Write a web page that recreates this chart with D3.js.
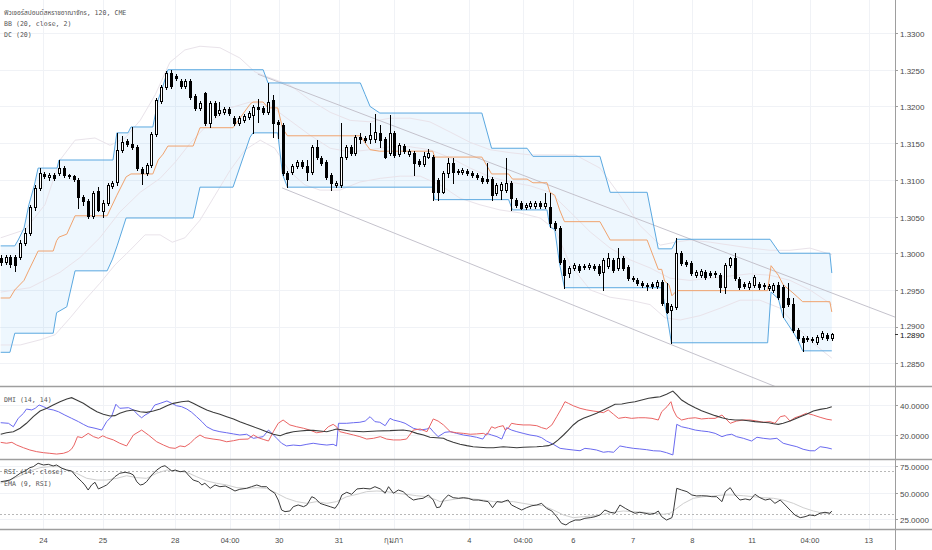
<!DOCTYPE html>
<html>
<head>
<meta charset="utf-8">
<script src="https://cdn.jsdelivr.net/npm/d3@7"></script>
<style>
  body { margin: 0; background: #fff; }
  svg { display: block; }
  .ax { font-family: "Liberation Sans", Arial, sans-serif; font-size: 8px; fill: #4a4a4a; }
  .lg { font-family: "DejaVu Sans Mono", "Noto Sans Thai", monospace; font-size: 6.6px; fill: #555; }
</style>
</head>
<body>
<svg id="chart"></svg>
<script>
// ---- dati (indice barra, prezzo/valore) ----
// candele 120 minuti: [open, high, low, close]
const ohlc = [
  [1.2994,1.2998,1.2984,1.2988],[1.2988,1.2998,1.2985,1.2995],[1.2995,1.2998,1.2981,1.2985],[1.2995,1.2998,1.2976,1.2984],
  [1.2995,1.3018,1.2992,1.3014],[1.3014,1.3034,1.3011,1.3028],[1.3028,1.3066,1.3025,1.3063],[1.3063,1.3093,1.3059,1.3089],
  [1.3089,1.3116,1.3086,1.3109],[1.3108,1.3111,1.3102,1.3105],[1.3104,1.3109,1.3100,1.3107],[1.3107,1.3109,1.3100,1.3102],
  [1.3109,1.3127,1.3107,1.3116],[1.3116,1.3119,1.3104,1.3107],[1.3107,1.3108,1.3102,1.3105],[1.3105,1.3107,1.3098,1.3101],
  [1.3100,1.3102,1.3062,1.3076],[1.3076,1.3079,1.3066,1.3071],[1.3071,1.3074,1.3048,1.3051],[1.3051,1.3085,1.3048,1.3082],
  [1.3085,1.3090,1.3057,1.3059],[1.3057,1.3072,1.3050,1.3068],[1.3068,1.3096,1.3066,1.3093],[1.3092,1.3098,1.3089,1.3096],
  [1.3097,1.3164,1.3093,1.3141],[1.3141,1.3160,1.3138,1.3151],[1.3153,1.3156,1.3146,1.3149],[1.3149,1.3172,1.3142,1.3145],
  [1.3145,1.3147,1.3113,1.3116],[1.3115,1.3118,1.3094,1.3109],[1.3109,1.3123,1.3107,1.3120],[1.3120,1.3165,1.3118,1.3162],
  [1.3162,1.3211,1.3160,1.3209],[1.3207,1.3229,1.3205,1.3226],[1.3226,1.3248,1.3224,1.3245],[1.3245,1.3250,1.3225,1.3228],
  [1.3241,1.3244,1.3236,1.3239],[1.3235,1.3237,1.3225,1.3228],[1.3228,1.3237,1.3225,1.3235],[1.3235,1.3237,1.3210,1.3213],
  [1.3214,1.3217,1.3195,1.3198],[1.3198,1.3207,1.3195,1.3205],[1.3218,1.3220,1.3175,1.3177],[1.3177,1.3207,1.3172,1.3205],
  [1.3205,1.3207,1.3186,1.3188],[1.3191,1.3206,1.3188,1.3195],[1.3192,1.3199,1.3190,1.3196],[1.3196,1.3199,1.3188,1.3191],
  [1.3184,1.3187,1.3175,1.3177],[1.3177,1.3187,1.3175,1.3184],[1.3181,1.3190,1.3179,1.3187],[1.3186,1.3194,1.3183,1.3191],
  [1.3188,1.3202,1.3164,1.3199],[1.3199,1.3210,1.3179,1.3196],[1.3198,1.3201,1.3190,1.3192],[1.3192,1.3232,1.3190,1.3206],
  [1.3209,1.3216,1.3158,1.3177],[1.3179,1.3181,1.3157,1.3176],[1.3175,1.3177,1.3107,1.3109],[1.3109,1.3112,1.3090,1.3101],
  [1.3111,1.3122,1.3108,1.3119],[1.3119,1.3127,1.3116,1.3124],[1.3124,1.3127,1.3116,1.3119],[1.3119,1.3127,1.3100,1.3111],
  [1.3111,1.3147,1.3108,1.3145],[1.3145,1.3154,1.3128,1.3131],[1.3130,1.3132,1.3120,1.3123],[1.3124,1.3127,1.3101,1.3104],
  [1.3107,1.3109,1.3086,1.3096],[1.3093,1.3098,1.3090,1.3096],[1.3093,1.3177,1.3090,1.3131],[1.3131,1.3147,1.3128,1.3145],
  [1.3145,1.3147,1.3134,1.3137],[1.3137,1.3161,1.3134,1.3158],[1.3158,1.3164,1.3150,1.3156],[1.3157,1.3160,1.3151,1.3154],
  [1.3156,1.3177,1.3150,1.3161],[1.3156,1.3190,1.3151,1.3165],[1.3164,1.3175,1.3145,1.3154],[1.3156,1.3158,1.3130,1.3131],
  [1.3137,1.3188,1.3134,1.3164],[1.3164,1.3167,1.3131,1.3134],[1.3135,1.3150,1.3132,1.3147],[1.3146,1.3149,1.3137,1.3139],
  [1.3135,1.3142,1.3132,1.3139],[1.3137,1.3139,1.3107,1.3123],[1.3126,1.3128,1.3119,1.3122],[1.3122,1.3138,1.3119,1.3132],
  [1.3131,1.3142,1.3130,1.3137],[1.3131,1.3134,1.3073,1.3083],[1.3100,1.3102,1.3073,1.3083],[1.3083,1.3112,1.3082,1.3109],
  [1.3109,1.3130,1.3104,1.3123],[1.3123,1.3130,1.3096,1.3111],[1.3112,1.3115,1.3108,1.3111],[1.3111,1.3116,1.3108,1.3113],
  [1.3112,1.3115,1.3107,1.3109],[1.3109,1.3112,1.3104,1.3107],[1.3107,1.3109,1.3101,1.3104],[1.3102,1.3105,1.3096,1.3098],
  [1.3101,1.3123,1.3096,1.3098],[1.3101,1.3104,1.3073,1.3079],[1.3082,1.3096,1.3079,1.3093],[1.3086,1.3097,1.3074,1.3094],
  [1.3086,1.3130,1.3083,1.3096],[1.3096,1.3098,1.3059,1.3075],[1.3072,1.3075,1.3063,1.3066],[1.3068,1.3071,1.3060,1.3062],
  [1.3063,1.3068,1.3060,1.3066],[1.3064,1.3071,1.3062,1.3068],[1.3064,1.3071,1.3062,1.3068],[1.3068,1.3071,1.3062,1.3064],
  [1.3064,1.3082,1.3062,1.3068],[1.3063,1.3082,1.3036,1.3041],[1.3041,1.3044,1.3032,1.3034],[1.3034,1.3037,1.2985,1.2988],
  [1.2991,1.2994,1.2953,1.2970],[1.2973,1.2983,1.2968,1.2980],[1.2980,1.2987,1.2977,1.2984],[1.2983,1.2985,1.2974,1.2977],
  [1.2983,1.2985,1.2978,1.2981],[1.2981,1.2987,1.2978,1.2984],[1.2983,1.2985,1.2977,1.2980],[1.2983,1.2985,1.2970,1.2973],
  [1.2974,1.2994,1.2950,1.2991],[1.2983,1.3000,1.2980,1.2994],[1.2991,1.2994,1.2974,1.2977],[1.2980,1.3007,1.2977,1.2994],
  [1.2994,1.2996,1.2977,1.2980],[1.2981,1.2984,1.2963,1.2966],[1.2966,1.2969,1.2962,1.2965],[1.2963,1.2966,1.2957,1.2959],
  [1.2959,1.2962,1.2954,1.2957],[1.2957,1.2959,1.2950,1.2955],[1.2958,1.2961,1.2953,1.2955],[1.2955,1.2963,1.2953,1.2961],
  [1.2961,1.2963,1.2930,1.2932],[1.2932,1.2959,1.2919,1.2920],[1.2923,1.2931,1.2878,1.2928],[1.2927,1.3021,1.2924,1.3000],
  [1.3000,1.3003,1.2984,1.2987],[1.2988,1.2991,1.2983,1.2985],[1.2987,1.2990,1.2970,1.2973],[1.2970,1.2977,1.2968,1.2974],
  [1.2970,1.2978,1.2968,1.2976],[1.2974,1.2977,1.2965,1.2968],[1.2973,1.2976,1.2968,1.2970],[1.2972,1.2976,1.2968,1.2973],
  [1.2970,1.2973,1.2947,1.2954],[1.2954,1.2987,1.2946,1.2984],[1.2984,1.2995,1.2981,1.2994],[1.2994,1.3000,1.2963,1.2966],
  [1.2965,1.2968,1.2951,1.2954],[1.2958,1.2961,1.2953,1.2955],[1.2954,1.2962,1.2951,1.2959],[1.2957,1.2970,1.2954,1.2968],
  [1.2958,1.2961,1.2951,1.2954],[1.2957,1.2959,1.2951,1.2955],[1.2953,1.2958,1.2950,1.2955],[1.2950,1.2959,1.2947,1.2957],
  [1.2957,1.2961,1.2938,1.2940],[1.2954,1.2957,1.2913,1.2927],[1.2939,1.2959,1.2928,1.2931],[1.2931,1.2939,1.2893,1.2895],
  [1.2895,1.2898,1.2882,1.2885],[1.2885,1.2887,1.2867,1.2879],[1.2883,1.2887,1.2880,1.2885],[1.2883,1.2886,1.2879,1.2882],
  [1.2879,1.2889,1.2876,1.2886],[1.2886,1.2894,1.2883,1.2891],[1.2889,1.2891,1.2882,1.2885],[1.2885,1.2891,1.2882,1.2890]
];

// Donchian (20): [indice barra, prezzo]
const dcUpper = [[0,1.3010],[2.9,1.3010],[3.6,1.3018],[4.8,1.3034],[5.8,1.3066],[6.9,1.3092],[7.7,1.3116],[11.6,1.3116],
  [12,1.3127],[23.1,1.3127],[23.9,1.3164],[26.2,1.3164],[26.8,1.3172],[31.3,1.3172],[32.4,1.3209],[33.4,1.3228],[34.4,1.3250],
  [54,1.3250],[55,1.3232],[74,1.3232],[75,1.3216],[76,1.3200],[78,1.3191],[99,1.3191],[101,1.3143],[108.3,1.3143],
  [109.5,1.3132],[123.3,1.3132],[125.4,1.3083],[133,1.3083],[135.3,1.3006],[138.1,1.3006],[139.1,1.3019],[158.3,1.3019],
  [160.3,1.3000],[170.6,1.3000],[171,1.2973]];
const dcLower = [[0,1.2865],[1.9,1.2865],[2.9,1.2891],[10.8,1.2891],[11.5,1.2919],[13.6,1.2927],[15.3,1.2976],[21.9,1.2976],
  [23,1.2992],[24,1.3011],[25.8,1.3048],[39.6,1.3048],[41,1.3090],[47.8,1.3090],[51.3,1.3158],[51.9,1.3164],[57,1.3164],
  [58,1.3107],[59,1.3090],[88.9,1.3090],[89.3,1.3073],[104.5,1.3073],[105.3,1.3059],[112.4,1.3059],[113,1.3036],[114,1.3032],
  [115,1.2985],[116,1.2953],[136,1.2953],[136.6,1.2930],[137,1.2919],[138,1.2878],[157.8,1.2878],[158.5,1.2947],[160,1.2938],
  [161,1.2913],[163,1.2893],[164,1.2882],[165,1.2867],[171,1.2867]];
const dcBasis = [[0,1.2939],[1.9,1.2939],[2.9,1.2950],[4.8,1.2963],[5.8,1.2977],[6.9,1.2992],[7.7,1.3003],[10.8,1.3003],
  [11.5,1.3017],[12,1.3022],[13.6,1.3026],[15.3,1.3051],[21.9,1.3051],[23.9,1.3079],[25.8,1.3104],[26.8,1.3108],[31.3,1.3108],
  [32.4,1.3127],[33.4,1.3135],[34.4,1.3146],[39.6,1.3146],[41,1.3171],[47.8,1.3171],[51.3,1.3203],[51.9,1.3206],[54,1.3206],
  [55,1.3198],[57,1.3198],[58,1.3170],[59,1.3160],[74,1.3160],[75,1.3150],[76,1.3141],[78,1.3139],[88.9,1.3139],[89.3,1.3131],
  [99,1.3131],[101,1.3108],[104.5,1.3108],[105.3,1.3101],[108.3,1.3101],[109.5,1.3096],[112.4,1.3096],[113,1.3083],[114,1.3079],
  [115,1.3059],[116,1.3043],[123.3,1.3043],[125.4,1.3018],[133,1.3018],[135.3,1.2978],[136,1.2978],[136.6,1.2962],[137.5,1.2957],
  [138.1,1.2942],[139.1,1.2949],[157.8,1.2949],[158.5,1.2983],[160,1.2970],[161,1.2957],[163,1.2946],[164,1.2940],[165,1.2934],
  [170.6,1.2934],[171,1.2920]];

// Bollinger (20, close, 2)
const bbUpper = [[0,1.3021],[5,1.3032],[9.1,1.3066],[12.2,1.3127],[15.3,1.3154],[19.4,1.3157],[22.5,1.3147],[25.6,1.3157],
  [28.7,1.3181],[31.8,1.3216],[34.8,1.3260],[37.9,1.3277],[41,1.3282],[45.1,1.3280],[49.2,1.3266],[52.3,1.3247],[55.4,1.3239],
  [59.5,1.3229],[63.6,1.3209],[67.8,1.3192],[71.9,1.3181],[76,1.3179],[80.1,1.3184],[84.2,1.3184],[88.3,1.3179],[92.5,1.3165],
  [96.6,1.3151],[100.7,1.3141],[104.8,1.3137],[108.9,1.3134],[113,1.3134],[118.2,1.3134],[123.3,1.3116],[127.4,1.3079],
  [131.5,1.3038],[135.7,1.3011],[138.8,1.3015],[141.8,1.3018],[146,1.3015],[150.1,1.3011],[154.2,1.3007],[158.3,1.3004],
  [162.4,1.3004],[166.5,1.3007],[171,1.2998]];
const bbBasis = [[0,1.2947],[6,1.2953],[12.2,1.2974],[16.3,1.2994],[20.4,1.3021],[24.5,1.3056],[28.7,1.3083],[32.8,1.3102],
  [35.9,1.3124],[39,1.3150],[43.1,1.3179],[47.2,1.3198],[51.3,1.3206],[55.4,1.3201],[59.5,1.3181],[63.6,1.3161],[67.8,1.3143],
  [71.9,1.3138],[76,1.3141],[80.1,1.3145],[84.2,1.3145],[88.3,1.3141],[92.5,1.3130],[96.6,1.3116],[100.7,1.3104],[104.8,1.3097],
  [108.9,1.3092],[113,1.3083],[117.2,1.3056],[121.3,1.3029],[125.4,1.3007],[129.5,1.2991],[133.6,1.2980],[137.7,1.2966],
  [141.8,1.2963],[146,1.2966],[150.1,1.2969],[154.2,1.2972],[158.3,1.2970],[162.4,1.2963],[166.5,1.2950],[171,1.2930]];
const bbLower = [[0,1.2875],[4,1.2875],[8.1,1.2882],[11.2,1.2889],[14.3,1.2912],[17.3,1.2936],[20.4,1.2959],[23.5,1.2984],
  [26.6,1.3004],[29.7,1.3025],[32.8,1.3025],[35.3,1.3015],[37.9,1.3021],[41,1.3045],[44.1,1.3079],[47.2,1.3113],[50.3,1.3141],
  [53.4,1.3154],[56.4,1.3143],[59.5,1.3111],[62.6,1.3093],[65.7,1.3086],[69.8,1.3086],[73.9,1.3097],[78.1,1.3102],[82.2,1.3105],
  [86.3,1.3105],[90.4,1.3093],[94.5,1.3075],[98.6,1.3066],[102.7,1.3059],[106.8,1.3055],[111,1.3048],[114.1,1.3032],
  [117.2,1.2984],[121.3,1.2950],[125.4,1.2940],[129.5,1.2936],[133.6,1.2930],[136.7,1.2912],[139.8,1.2909],[143.9,1.2915],
  [148,1.2925],[152.1,1.2936],[156.2,1.2936],[160.4,1.2925],[164.5,1.2895],[167.6,1.2875],[171,1.2857]];

// linee di tendenza disegnate
const trendUpper = [[52.9,1.3244],[184,1.2913]];
const trendLower = [[57.9,1.3089],[170,1.2790]];

// DMI (14, 14)
const diPlus = [[0,28.2],[1.6,27.8],[2.6,25.5],[3.6,31.1],[4.7,34.5],[5.3,37.3],[6.4,36.7],[7.1,37.8],[7.9,40],[8.8,38.9],
  [9.8,37.3],[10.8,36.7],[11.9,35.5],[13.2,33.3],[14.6,31.1],[16,28.9],[17,27.1],[18,25.5],[19.4,24.5],[20.8,23.3],[21.8,28.9],
  [22.8,32.2],[23.7,40.5],[24.5,37.8],[26.3,38.2],[27.3,36.7],[28.3,33.3],[29,31.5],[29.7,33.3],[30.7,35.1],[31.7,40],[32.8,41.1],
  [34.2,42.7],[35.2,41.1],[36.2,39.5],[37.2,38.9],[38.3,37.3],[39.3,35.1],[40.3,32.2],[41.4,28.9],[42.4,25.5],[43.7,23.3],
  [45.1,22.2],[46.5,21.5],[47.9,20.7],[49.2,20],[50.6,20.5],[52,17.8],[52.7,18.2],[54,18.9],[55.1,23.3],[55.8,21.1],[56.8,17.8],
  [57.8,14.5],[58.8,12.7],[60.2,13.3],[61.6,12.9],[63,13.8],[64.3,14.5],[65.7,13.8],[67.1,13.3],[68.4,13.8],[69.1,12.7],
  [69.5,27.8],[71.2,27.8],[72.6,28.2],[73.9,28.5],[75,29.3],[76,32.2],[77,28.9],[78,28.5],[79.1,26.2],[80.1,31.1],[80.8,30],
  [82.2,28.9],[83.2,27.8],[84.9,24.5],[86.3,23.3],[87.7,24],[88.3,24.9],[89,22.2],[90,18.9],[91.4,21.8],[92.5,22.2],[93.8,21.1],
  [95.2,20],[96.6,19.3],[97.9,18.5],[99.2,17.3],[100,21.1],[101,20],[102.1,18.9],[103.1,17.3],[104.1,24.9],[105.1,23.3],
  [106.2,22.2],[107.5,21.1],[108.9,20],[110.3,19.3],[111.3,18.2],[112.3,16],[113.7,13.8],[115.1,11.1],[116.5,10.5],[117.8,10],
  [119.2,9.5],[120.2,11.1],[121.3,10.7],[122.6,10],[124,8.5],[125,8.9],[126.1,8.5],[127.4,12.7],[128.8,11.8],[130.2,11.1],
  [131.5,10.7],[132.9,10.2],[134.3,9.5],[135.7,9.3],[137,8.2],[138.3,6.7],[139.1,27.1],[140.1,25.5],[141.5,24.5],[142.9,23.3],
  [144.2,22.7],[145.6,22.2],[147,21.1],[148.4,18.9],[149.4,20],[150.4,20.5],[151.4,18.9],[152.8,17.8],[154.5,16],[155.6,18.5],
  [156.9,17.8],[158.3,17.3],[159.7,17.8],[161,14.5],[162.4,13.3],[163.8,12.2],[165.1,10.5],[166.5,9.5],[167.5,9.5],[168.6,12.2],
  [170,11.5],[171,10.7]];
const diMinus = [[0,15.1],[1.2,14.5],[2.3,15.1],[3.3,13.3],[4.7,11.5],[6,10],[7.4,8.9],[8.8,8.2],[10.1,7.8],[11.5,7.3],
  [12.9,7.8],[13.9,8.9],[14.6,10.7],[15.1,13.3],[15.8,18.9],[16.7,18.2],[18,21.1],[19.1,18.9],[20.1,17.8],[21,19.5],[21.8,18.2],
  [23.2,16.7],[24.5,14.5],[25.9,12.7],[27.3,20],[29,23.3],[30.4,20],[32.1,15.5],[33.5,13.3],[34.8,11.5],[35.9,11.1],[36.9,12.7],
  [37.9,12.2],[39,14.5],[40,17.8],[41,20],[42,18.2],[43.7,17.3],[45.1,16.7],[46.5,15.5],[47.9,16.2],[49.2,17.1],[50.9,17.3],
  [52,20],[53,18.2],[54,17.1],[55.1,16],[56.1,22.2],[57.1,27.8],[58.1,30],[59.5,26.7],[60.9,25.5],[62.3,24.5],[63.6,23.3],
  [65,21.5],[66.4,22.2],[67.4,25.5],[68.4,27.1],[69.1,25.5],[69.8,22.2],[71.2,21.1],[72.6,20],[73.9,18.9],[75.3,17.3],
  [76.7,17.8],[78.1,18.9],[79.4,17.3],[80.8,16.7],[82.2,16.7],[83.5,17.3],[84.9,23.3],[86.3,24],[87.7,22.2],[89,30.7],[90,29.3],
  [91.1,26.7],[92.5,22.2],[93.8,21.5],[95.2,21.1],[96.6,20.5],[97.9,20.7],[99.3,21.1],[100,20],[101,25.5],[101.7,24.5],
  [102.4,25.5],[103.4,26.2],[103.8,23.3],[104.5,24.9],[105.1,27.8],[106.2,27.1],[107.5,26.7],[108.9,26.7],[110.3,26.2],
  [111.3,24.9],[112.3,24],[113.4,26.7],[114.4,32.2],[115.4,37.8],[116.1,42.2],[116.8,41.1],[117.8,39.5],[119.2,37.8],[120.6,36.7],
  [121.9,36],[123,35.5],[124,34.9],[125,36.7],[126.1,33.8],[127.1,31.1],[128.5,31.8],[129.8,31.1],[131.2,31.5],[132.6,31.5],
  [134,31.1],[135.3,30],[136,35.5],[137.1,38.9],[137.9,42.2],[138.4,36.7],[139.1,32.2],[140.1,30],[141.5,31.1],[142.9,31.5],
  [144.2,30.7],[145.6,31.1],[147,31.1],[148.4,33.3],[149.1,31.1],[150.1,27.8],[151.4,29.3],[152.8,30],[154.2,30],[155.6,29.3],
  [156.9,28.5],[158.3,28.9],[159.3,27.8],[160.4,32.2],[161.4,32.9],[162.4,29.3],[163.4,31.5],[164.5,32.7],[165.8,34.5],
  [167.2,33.3],[168.6,31.8],[170,30.5],[171,30]];
const adx = [[0,20.5],[1.2,21.5],[2.6,22.2],[4,24.5],[5.3,27.8],[6.7,32.2],[8.1,36],[9.5,37.8],[10.8,40],[12.2,42.2],[13.6,44],
  [14.6,44.9],[15.6,43.3],[17,41.1],[18.4,38.2],[19.8,35.5],[21.1,33.8],[22.5,32.7],[23.5,32.9],[24.5,34.5],[25.9,36],
  [27.3,36.7],[28.7,35.5],[30,35.1],[31.4,36],[32.8,37.3],[34.2,39.5],[35.5,41.1],[37.2,42.2],[38.6,42.7],[39.6,41.1],[41,38.9],
  [42.4,36.7],[43.7,35.1],[45.1,33.8],[46.5,32.2],[47.9,30.7],[49.2,28.9],[50.6,27.1],[52,25.5],[53.4,23.8],[54.7,22.2],
  [56.1,20.5],[57.5,19.5],[58.8,21.1],[60.2,22.2],[61.6,22.7],[63,23.1],[64.3,23.1],[65.7,22.7],[67.1,22.2],[68.4,23.3],[69.1,24],
  [70.5,23.3],[71.9,22.7],[74.6,22.2],[77.4,22.7],[80.1,22.9],[82.8,23.3],[84.2,22.7],[85.6,21.1],[87,20],[88.3,18.5],[89.7,18.2],
  [91.1,17.8],[91.8,16.7],[93.1,15.1],[94.5,13.8],[95.9,12.9],[97.2,12.2],[98.6,11.8],[100,11.5],[101.4,11.5],[103.4,12.2],
  [104.8,11.8],[106.2,11.5],[107.5,11.8],[108.9,12],[110.3,12.2],[111.6,12.5],[112.7,12.9],[113.7,14.2],[114.7,16.7],[115.8,20],
  [116.8,23.3],[117.8,26.7],[118.8,29.3],[119.9,31.1],[121.3,32.9],[122.6,34.5],[124,36.7],[125.4,38.9],[126.4,40.5],[127.8,40.7],
  [129.1,41.5],[130.5,42.2],[131.9,43.3],[133.3,44.5],[134.6,45.1],[135.7,45.5],[137,47.1],[138.3,49.3],[139.1,46.7],[140.1,43.3],
  [141.5,40.5],[142.9,38.2],[144.2,36.2],[145.6,34.5],[147,32.9],[148.4,31.5],[149.7,30.5],[151.1,30],[152.5,30],[153.8,29.5],
  [155.2,28.9],[156.6,28.5],[158,28.2],[159,27.5],[160,27.1],[161,27.8],[162.4,29.3],[163.4,30.7],[164.5,32.2],[165.8,33.8],
  [167.2,36],[168.6,37.1],[170,37.8],[171,38.9]];

// RSI (14, close) e EMA (9, RSI)
const rsi = [[0,60],[0.9,60.7],[1.9,61.6],[3,64.7],[4,67.9],[5,70],[6,73.1],[6.7,74],[7.7,77.2],[8.8,75.6],[9.8,76.2],
  [10.8,74.7],[11.5,75.6],[12.6,72.5],[13.6,70.9],[14.6,70],[15.6,64.7],[16.7,60],[17.3,57],[18,52.3],[18.7,57],[19.4,59.5],
  [20.1,53.3],[21.1,55.4],[21.8,57],[22.5,60],[23.5,64.7],[24.5,67.9],[25.6,68.8],[26.6,67.9],[27.3,66.3],[28,60],[28.7,57],
  [29.3,57.6],[30,60],[31.1,66.3],[32.1,70.9],[33.1,74],[33.8,74.9],[34.5,72.5],[35.2,70],[35.9,70.9],[36.9,69.3],[37.9,70],
  [38.6,66.3],[39.6,61.6],[40.7,60],[41.4,57],[42,58.6],[43.1,53.9],[44.1,57],[45.1,55.4],[46.2,56],[47.2,53.9],[48.2,51.4],
  [49.2,53],[50.6,53.9],[51.6,55.4],[52.7,57],[53.7,55.4],[54.7,55.4],[55.4,52.3],[56.4,49.3],[57.1,43],[57.8,33.7],[58.5,32.2],
  [59.5,32.8],[60.2,36.8],[61.2,38.4],[62.3,36.8],[63,38.4],[64,46.1],[64.7,44.6],[65.7,39.9],[66.7,38.4],[67.8,36.8],[68.8,35.3],
  [69.5,39.9],[70.2,47.7],[71.2,50.2],[72.2,48.3],[73.3,53.3],[74.6,53.9],[76,53.3],[77,55.4],[78.1,53.3],[79.1,49.3],[79.8,55.4],
  [80.8,49.3],[81.8,52.3],[82.8,50.8],[83.9,46.1],[84.9,43],[85.9,44],[86.9,44.6],[88,47.7],[89,43],[89.7,35.9],[90.4,36.5],
  [91.1,43],[92.1,47.7],[93.1,45.2],[94.2,44.6],[95.2,45.2],[96.2,44.6],[97.2,43],[98.3,43],[99.3,42.2],[100.3,41.5],[101.2,35.9],
  [102.1,41.5],[103.1,40.9],[103.8,42.2],[104.4,43],[105.1,38.4],[106.2,35.9],[107.2,33.7],[108.2,35.9],[109.3,37.7],[110.3,38.4],
  [111.3,39.9],[112.3,35.3],[113.4,32.8],[114.4,27.5],[115.4,21.3],[116.3,19.8],[117.1,22.3],[118.2,24.4],[119.2,24.4],[120.2,26],
  [121.3,26.6],[122.3,27.5],[123.3,29.1],[124.3,33.7],[125.4,31.6],[126.4,30.7],[127.4,38.4],[128.5,35.3],[129.5,32.8],
  [130.5,30.7],[131.5,31.6],[132.6,30.7],[133.6,29.7],[134.6,30.7],[135.3,32.8],[136,27.5],[137,24.4],[138.1,26.6],[138.4,32.2],
  [139.1,53.9],[140.1,52.3],[141.2,50.8],[142.2,47.7],[143.2,46.8],[144.2,47],[145.3,46.8],[146.3,46.1],[147.3,46.1],[148.4,41.5],
  [149.1,50.8],[150.1,54.5],[151.1,47.7],[152.1,43],[153.2,44],[154.2,43],[155.2,48.3],[156.2,45.2],[157.3,43],[158.3,44],
  [159.3,39.9],[160.4,43],[161.4,38.4],[162.4,33.7],[163.4,29.1],[164.5,26.6],[165.5,27.5],[166.5,29.1],[167.5,28.4],[168.6,30.7],
  [169.6,31.6],[170.6,30.7],[171,32.8]];
const rsiEma = [[0,58.6],[1.9,61.6],[4,65.6],[6,70],[8.1,73.1],[10.1,74],[11.9,74],[13.6,70.9],[15.6,67.9],[17.7,63.2],
  [19.8,61.6],[21.8,61.6],[23.9,63.2],[25.9,65.6],[28,63.8],[30,63.2],[32.1,67.9],[34.2,70.9],[36.2,70],[38.3,68.8],[40.3,64.7],
  [42.4,60.7],[44.4,58.6],[46.5,57],[48.6,54.5],[50.6,53.9],[52.7,54.5],[54.7,53.9],[56.8,49.3],[58.8,44.6],[60.9,41.5],[63,39.9],
  [65,41.5],[67.1,39.9],[69.1,41.5],[71.2,46.1],[73.3,48.3],[75.3,50.8],[77.4,51.4],[79.4,50.8],[81.5,49.3],[83.5,48.3],[85.6,47],
  [87.7,46.1],[89.7,43],[90.4,41.5],[92.4,43],[94.5,44.6],[97.2,44],[99.3,43],[101.4,41.5],[103.4,41.5],[105.5,41.5],[107.5,39.9],
  [109.6,38.4],[111.6,37.7],[113.7,33.7],[115.8,29.1],[117.8,26.6],[119.9,27.5],[121.9,28.4],[124,29.7],[126,31.6],[128.1,32.8],
  [130.2,32.2],[132.2,31.6],[134.3,30.7],[136.3,29.7],[137.7,30.7],[139.1,35.3],[140.5,39.9],[142.5,44.6],[144.6,46.1],
  [146.6,46.8],[148.7,47.7],[150.7,47.7],[152.8,47],[154.9,46.1],[156.9,45.2],[159,44.6],[161,43],[163.1,39.9],[165.1,35.9],
  [167.2,32.8],[169.3,30.7],[171,30.7]];

// tick e etichette
const priceTicks = [1.285, 1.29, 1.295, 1.30, 1.305, 1.31, 1.315, 1.32, 1.325, 1.33];
const dmiTicks = [20, 40];
const rsiTicks = [25, 50, 75];
const rsiBands = [30, 70];
const xTickIdx = [8.8, 21.05, 35.9, 47.2, 57.3, 69.6, 80.9, 96.4, 107.5, 117.8, 130.1, 142.3, 154.6, 166.5, 178.6];
const xTickLabels = ["24", "25", "28", "04:00", "30", "31", "กุมภา", "4", "04:00", "6", "7", "8", "11", "04:00", "13"];
const legendMain = ["ฟิวเจอร์สปอนด์สหราชอาณาจักร, 120, CME", "BB (20, close, 2)", "DC (20)"];

// ---- layout ----
const W = 932, H = 550, plotR = 895;
const x = d3.scaleLinear().domain([0, 171]).range([0.7, 831.8]);
const yMain = d3.scaleLinear().domain([1.28191, 1.3345]).range([386, 0]);
const yDmi = d3.scaleLinear().domain([4, 52]).range([459, 387]);
const yRsi = d3.scaleLinear().domain([16.05, 80.23]).range([529, 460]);

const svg = d3.select('#chart').attr('width', W).attr('height', H);
svg.append('rect').attr('width', W).attr('height', H).attr('fill', '#fff');

const defs = svg.append('defs');
function addClip(id, y0, y1) {
  defs.append('clipPath').attr('id', id)
    .append('rect').attr('x', 0).attr('y', y0).attr('width', plotR).attr('height', y1 - y0);
}
addClip('cMain', 0, 386);
addClip('cDmi', 387, 459);
addClip('cRsi', 460, 529);

// griglia
const grid = svg.append('g').attr('stroke', '#f0f2f6').attr('stroke-width', 1);
xTickIdx.forEach(t => {
  const px = Math.round(x(t)) + 0.5;
  grid.append('line').attr('x1', px).attr('x2', px).attr('y1', 0).attr('y2', 529);
});
priceTicks.forEach(t => {
  const py = Math.round(yMain(t)) + 0.5;
  grid.append('line').attr('x1', 0).attr('x2', plotR).attr('y1', py).attr('y2', py);
});
dmiTicks.forEach(t => {
  const py = Math.round(yDmi(t)) + 0.5;
  grid.append('line').attr('x1', 0).attr('x2', plotR).attr('y1', py).attr('y2', py);
});
rsiTicks.forEach(t => {
  const py = Math.round(yRsi(t)) + 0.5;
  grid.append('line').attr('x1', 0).attr('x2', plotR).attr('y1', py).attr('y2', py);
});

// pannello prezzi
const gMain = svg.append('g').attr('clip-path', 'url(#cMain)');
const lineMain = d3.line().x(d => x(d[0])).y(d => yMain(d[1]));

gMain.append('path')
  .attr('d', lineMain(dcUpper.concat(dcLower.slice().reverse())) + 'Z')
  .attr('fill', 'rgba(33,150,243,0.08)');

// bande di Bollinger molto tenui
[bbUpper, bbBasis, bbLower].forEach(s => {
  gMain.append('path').attr('d', lineMain(s))
    .attr('fill', 'none').attr('stroke', '#e9e3ea').attr('stroke-width', 1);
});

[trendUpper, trendLower].forEach(s => {
  gMain.append('path').attr('d', lineMain(s))
    .attr('fill', 'none').attr('stroke', '#c4c2cc').attr('stroke-width', 1);
});

[dcUpper, dcLower].forEach(s => {
  gMain.append('path').attr('d', lineMain(s))
    .attr('fill', 'none').attr('stroke', '#5aa8e0').attr('stroke-width', 1);
});
gMain.append('path').attr('d', lineMain(dcBasis))
  .attr('fill', 'none').attr('stroke', '#f0a36e').attr('stroke-width', 1);

// candele
const gC = gMain.append('g');
ohlc.forEach((d, i) => {
  const [o, h, l, c] = d;
  const cx = Math.round(x(i));
  gC.append('line')
    .attr('x1', cx + 0.5).attr('x2', cx + 0.5)
    .attr('y1', Math.round(yMain(h))).attr('y2', Math.round(yMain(l)) + 1)
    .attr('stroke', '#000').attr('stroke-width', 1);
  const top = Math.round(yMain(Math.max(o, c)));
  const bot = Math.round(yMain(Math.min(o, c)));
  if (c >= o) {
    gC.append('rect')
      .attr('x', cx - 0.5).attr('y', top + 0.5)
      .attr('width', 2).attr('height', Math.max(1, bot - top))
      .attr('fill', '#fff').attr('stroke', '#000').attr('stroke-width', 1);
  } else {
    gC.append('rect')
      .attr('x', cx - 1).attr('y', top)
      .attr('width', 3).attr('height', Math.max(1, bot - top + 1))
      .attr('fill', '#000');
  }
});

// pannello DMI
const gDmi = svg.append('g').attr('clip-path', 'url(#cDmi)');
const lineDmi = d3.line().x(d => x(d[0])).y(d => yDmi(d[1]));
gDmi.append('path').attr('d', lineDmi(diPlus)).attr('fill', 'none').attr('stroke', '#6a6af0').attr('stroke-width', 1);
gDmi.append('path').attr('d', lineDmi(diMinus)).attr('fill', 'none').attr('stroke', '#ea6464').attr('stroke-width', 1);
gDmi.append('path').attr('d', lineDmi(adx)).attr('fill', 'none').attr('stroke', '#3c3c3c').attr('stroke-width', 1.1);

// pannello RSI
const gRsi = svg.append('g').attr('clip-path', 'url(#cRsi)');
const lineRsi = d3.line().x(d => x(d[0])).y(d => yRsi(d[1]));
rsiBands.forEach(t => {
  const py = Math.round(yRsi(t)) + 0.5;
  gRsi.append('line').attr('x1', 0).attr('x2', plotR).attr('y1', py).attr('y2', py)
    .attr('stroke', '#b8b8b8').attr('stroke-dasharray', '2,2');
});
gRsi.append('path').attr('d', lineRsi(rsiEma)).attr('fill', 'none').attr('stroke', '#cfcfcf').attr('stroke-width', 1);
gRsi.append('path').attr('d', lineRsi(rsi)).attr('fill', 'none').attr('stroke', '#3a3a3a').attr('stroke-width', 1);

// separatori e asse destro
const sep = svg.append('g').attr('stroke', '#9e9e9e');
[386.5, 459.5, 529.5].forEach(py => {
  sep.append('line').attr('x1', 0).attr('x2', W).attr('y1', py).attr('y2', py).attr('stroke-width', 1.5);
});
sep.append('line').attr('x1', plotR + 0.5).attr('x2', plotR + 0.5).attr('y1', 0).attr('y2', H).attr('stroke-width', 1);

// etichette asse destro
const axis = svg.append('g');
const lastClose = ohlc[ohlc.length - 1][3];
const ly = Math.round(yMain(lastClose)) + 0.5;
function rightLabel(py, txt) {
  axis.append('line').attr('x1', plotR).attr('x2', plotR + 3).attr('y1', py).attr('y2', py)
    .attr('stroke', '#9e9e9e');
  // se troppo vicina all'ultimo prezzo, sposta un poco l'etichetta in alto
  const dy = (Math.abs(py - ly) < 9 && py !== ly) ? -(9 - Math.abs(py - ly)) : 0;
  axis.append('text').attr('class', 'ax').attr('x', plotR + 5).attr('y', py + 3 + dy).text(txt);
}
priceTicks.forEach(t => rightLabel(Math.round(yMain(t)) + 0.5, t.toFixed(4)));
dmiTicks.forEach(t => rightLabel(Math.round(yDmi(t)) + 0.5, t.toFixed(4)));
rsiTicks.forEach(t => rightLabel(Math.round(yRsi(t)) + 0.5, t.toFixed(4)));

// ultimo prezzo
axis.append('rect').attr('x', plotR + 1).attr('y', ly - 4).attr('width', 34).attr('height', 9).attr('fill', '#fff');
axis.append('line').attr('x1', plotR).attr('x2', plotR + 3).attr('y1', ly).attr('y2', ly).attr('stroke', '#333');
axis.append('text').attr('class', 'ax').attr('x', plotR + 5).attr('y', ly + 3)
  .style('fill', '#111').text(lastClose.toFixed(4));

// etichette asse x
xTickIdx.forEach((t, k) => {
  axis.append('text').attr('class', 'ax')
    .attr('x', x(t)).attr('y', 543).attr('text-anchor', 'middle')
    .style('font-size', '7.5px')
    .text(xTickLabels[k]);
});

// legende
const lg = svg.append('g');
legendMain.forEach((t, k) => {
  lg.append('text').attr('class', 'lg').attr('x', 4).attr('y', 15 + k * 11).text(t);
});
lg.append('text').attr('class', 'lg').attr('x', 4).attr('y', 402).text('DMI (14, 14)');
lg.append('text').attr('class', 'lg').attr('x', 4).attr('y', 474).text('RSI (14, close)');
lg.append('text').attr('class', 'lg').attr('x', 4).attr('y', 486).text('EMA (9, RSI)');
</script>
</body>
</html>
